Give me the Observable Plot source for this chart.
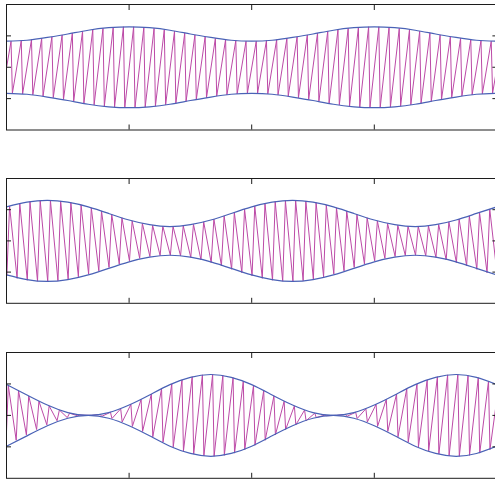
<!DOCTYPE html>
<html><head><meta charset="utf-8">
<script src="https://cdn.jsdelivr.net/npm/d3@7"></script>
<script src="https://cdn.jsdelivr.net/npm/@observablehq/plot@0.6"></script>
<style>body{margin:0;background:#fff}#c svg{display:block}</style>
</head><body><div id="c"></div>
<script>
// tick values (no labels shown in the reference)
const xTicks = [1, 2, 3];
const yTicks = [-1, 0, 1];

// envelope samples (upper envelope; lower is its mirror), x = 0 .. 4
const envX = [0, 0.1667, 0.3333, 0.5, 0.6667, 0.8333, 1, 1.1667, 1.3333, 1.5, 1.6667, 1.8333, 2,
              2.1667, 2.3333, 2.5, 2.6667, 2.8333, 3, 3.1667, 3.3333, 3.5, 3.6667, 3.8333, 4];
const env1 = [0.83,0.86,0.95,1.06,1.18,1.26,1.29,1.26,1.18,1.06,0.95,0.86,0.83,
              0.86,0.95,1.06,1.18,1.26,1.29,1.26,1.18,1.06,0.95,0.86,0.83];
const env2 = [1.09,1.24,1.30,1.24,1.09,0.88,0.67,0.52,0.46,0.52,0.67,0.88,1.09,
              1.24,1.30,1.24,1.09,0.88,0.67,0.52,0.46,0.52,0.67,0.88,1.09];
const env3 = [0.98,0.65,0.33,0.09,0.00,0.09,0.33,0.65,0.98,1.21,1.30,1.21,0.98,
              0.65,0.33,0.09,0.00,0.09,0.33,0.65,0.98,1.21,1.30,1.21,0.98];

// carrier peak heights, one per carrier cycle (cycle -1 .. 48)
const amp1 = [0.83,
  0.83,0.85,0.88,0.92,0.97,1.03,1.09,1.15,1.20,1.24,1.27,1.29,1.29,1.27,1.24,1.20,1.15,1.09,1.03,0.97,0.92,0.88,0.85,0.83,
  0.83,0.85,0.88,0.92,0.97,1.03,1.09,1.15,1.20,1.24,1.27,1.29,1.29,1.27,1.24,1.20,1.15,1.09,1.03,0.97,0.92,0.88,0.85,0.83,
  0.83];
const amp2 = [1.02,
  1.12,1.20,1.26,1.29,1.30,1.28,1.23,1.15,1.06,0.96,0.85,0.74,0.64,0.56,0.50,0.47,0.46,0.48,0.53,0.61,0.70,0.80,0.91,1.02,
  1.12,1.20,1.26,1.29,1.30,1.28,1.23,1.15,1.06,0.96,0.85,0.74,0.64,0.56,0.50,0.47,0.46,0.48,0.53,0.61,0.70,0.80,0.91,1.02,
  1.12];
const amp3 = [1.09,
  0.95,0.79,0.62,0.45,0.30,0.17,0.07,0.01,0.00,0.03,0.10,0.21,0.35,0.51,0.68,0.85,1.00,1.13,1.23,1.29,1.30,1.27,1.20,1.09,
  0.95,0.79,0.62,0.45,0.30,0.17,0.07,0.01,0.00,0.03,0.10,0.21,0.35,0.51,0.68,0.85,1.00,1.13,1.23,1.29,1.30,1.27,1.20,1.09,
  0.95];

// carrier: cycles per x unit, first peak position, and the x offset of the opposite peak
const cyclesPerUnit = 12;
const cycleStart = [0.037, 0.025, 0.0147];
const edgeOffsetBefore = [0.011, -0.022, -0.019];
const edgeOffsetAfter  = [0.011, -0.022, 0.012];
const edgeSwitchCycle  = [999, 999, 8];

const envs = [env1, env2, env3];
const amps = [amp1, amp2, amp3];

const MAG = "#bc4aa7", BLUE = "#4a62b6", INK = "#1c1c1c";

function zigRows(p) {
  const rows = [];
  amps[p].forEach((a, j) => {
    const i = j - 1;
    const t = cycleStart[p] + i / cyclesPerUnit;
    const off = i < edgeSwitchCycle[p] ? edgeOffsetBefore[p] : edgeOffsetAfter[p];
    rows.push({x: t, y: a}, {x: t + off, y: -a});
  });
  return rows.sort((u, v) => u.x - v.x);
}
function envRows(p, sign) {
  return envX.map((x, k) => ({x, y: sign * envs[p][k]}));
}

function panel(p, h, mt, mb) {
  const axOpts = {tickSize: -5, fill: "none", stroke: INK, strokeWidth: 1, label: null};
  return Plot.plot({
    width: 495, height: h,
    marginTop: mt, marginBottom: mb, marginLeft: 6, marginRight: -1.4,
    x: {domain: [0, 4], axis: null},
    y: {domain: [-2, 2], axis: null},
    marks: [
      Plot.line(zigRows(p), {x: "x", y: "y", stroke: MAG, strokeWidth: 1, clip: true}),
      Plot.line(envRows(p, 1), {x: "x", y: "y", curve: "natural", stroke: BLUE, strokeWidth: 1.2, clip: true}),
      Plot.line(envRows(p, -1), {x: "x", y: "y", curve: "natural", stroke: BLUE, strokeWidth: 1.2, clip: true}),
      Plot.frame({stroke: INK, strokeWidth: 1}),
      Plot.axisX(xTicks, {...axOpts, anchor: "bottom"}),
      Plot.axisX(xTicks, {...axOpts, anchor: "top"}),
      Plot.axisY(yTicks, {...axOpts, anchor: "left"}),
      Plot.axisY(yTicks, {...axOpts, anchor: "right"})
    ]
  });
}

const c = document.getElementById("c");
c.append(panel(0, 174, 4, 44.5));
c.append(panel(1, 174, 4, 45.2));
c.append(panel(2, 131, 4, 1.2));
</script>
</body></html>
